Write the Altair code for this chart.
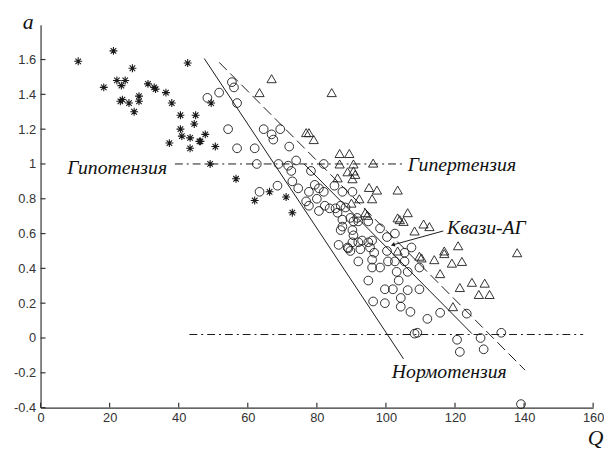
import altair as alt
import pandas as pd

# ---- data ----
hypo_q = [10.9, 21.1, 18.3, 22.1, 23.4, 24.5, 26.6, 23.1, 23.7, 25.6, 27.1, 28.5, 28.5,
          31.1, 32.9, 33.3, 36.3, 38.0, 40.5, 40.5, 40.9, 37.3, 42.6, 43.3, 43.3, 44.9,
          44.5, 46.0, 46.3, 47.7, 50.6, 49.1, 49.4, 56.6, 66.3, 62.0, 71.1, 72.9]
hypo_a = [1.59, 1.65, 1.44, 1.48, 1.45, 1.48, 1.55, 1.36, 1.37, 1.35, 1.30, 1.39, 1.36,
          1.46, 1.44, 1.43, 1.41, 1.35, 1.28, 1.20, 1.16, 1.12, 1.58, 1.15, 1.09, 1.28,
          1.23, 1.13, 1.13, 1.17, 1.10, 1.00, 1.35, 0.915, 0.84, 0.79, 0.81, 0.72]

norm_q = [48.3, 51.7, 55.4, 56.0, 56.9, 54.3, 56.9, 62.0, 64.6, 66.9,
          69.4, 67.4, 72.0, 62.6, 68.9, 71.7, 74.0, 72.6, 82.0, 78.3,
          63.4, 68.6, 72.9, 74.6, 77.7, 79.4, 80.6, 82.0, 85.1, 87.4,
          90.3, 76.9, 77.7, 80.0, 82.3, 80.6, 83.7, 85.4, 86.9, 88.3,
          86.0, 87.4, 87.4, 86.9, 89.7, 90.6, 90.3, 90.6, 92.0, 94.9,
          91.7, 98.3, 100.3, 102.6, 86.3, 88.9, 89.1, 89.7, 90.3, 92.0,
          93.1, 94.9, 96.0, 95.4, 92.6, 96.6, 100.3, 107.4, 92.0, 96.0,
          96.0, 98.3, 100.6, 102.6, 103.1, 105.4, 106.3, 109.7, 94.9, 99.7,
          102.0, 103.7, 106.3, 109.7, 96.3, 99.7, 104.3, 104.3, 107.1, 112.0,
          115.7, 123.4, 108.3, 109.1, 120.6, 121.4, 127.4, 128.3, 133.4, 139.1,
          105.4]
norm_a = [1.38, 1.41, 1.47, 1.44, 1.35, 1.20, 1.09, 1.09, 1.20, 1.17,
          1.20, 1.14, 1.10, 1.00, 1.00, 0.99, 1.02, 0.96, 1.00, 0.96,
          0.84, 0.875, 0.90, 0.86, 0.84, 0.88, 0.86, 0.84, 0.875, 0.84,
          0.84, 0.785, 0.76, 0.80, 0.76, 0.73, 0.745, 0.745, 0.76, 0.75,
          0.72, 0.68, 0.64, 0.62, 0.69, 0.67, 0.62, 0.59, 0.67, 0.67,
          0.69, 0.63, 0.58, 0.60, 0.535, 0.52, 0.515, 0.50, 0.55, 0.55,
          0.56, 0.55, 0.56, 0.52, 0.51, 0.49, 0.50, 0.52, 0.44, 0.45,
          0.405, 0.405, 0.44, 0.44, 0.38, 0.44, 0.38, 0.405, 0.33, 0.28,
          0.28, 0.33, 0.275, 0.28, 0.21, 0.20, 0.23, 0.18, 0.15, 0.11,
          0.145, 0.14, 0.025, 0.03, -0.01, -0.08, 0.00, -0.065, 0.03, -0.38,
          0.49]

hyper_q = [66.9, 63.4, 84.3, 76.9, 77.7, 79.1, 86.6, 89.4, 86.6, 90.6,
           96.3, 88.9, 90.6, 91.1, 86.0, 90.3, 95.1, 97.4, 103.4, 96.0,
           92.3, 90.0, 94.0, 94.6, 106.3, 103.4, 104.0, 105.1, 108.3, 110.9,
           112.6, 103.4, 109.7, 110.3, 114.0, 116.9, 116.9, 119.1, 120.9, 122.0,
           115.7, 138.0, 121.4, 124.9, 128.6, 126.9, 130.0, 119.4]
hyper_a = [1.49, 1.41, 1.41, 1.18, 1.18, 1.14, 1.06, 1.06, 1.00, 1.00,
           1.005, 0.955, 0.96, 0.94, 0.92, 0.915, 0.865, 0.85, 0.85, 0.80,
           0.80, 0.775, 0.72, 0.705, 0.72, 0.69, 0.68, 0.67, 0.615, 0.655,
           0.64, 0.50, 0.47, 0.46, 0.45, 0.50, 0.485, 0.43, 0.53, 0.44,
           0.37, 0.49, 0.29, 0.32, 0.315, 0.25, 0.25, 0.18]

solid_id = ["s1", "s1", "s2", "s2"]
solid_q = [47.4, 105.1, 76.3, 124.9]
solid_a = [1.606, -0.12, 1.00, 0.025]

dash_q = [51.7, 140.3]
dash_a = [1.584, -0.185]

level_q1 = [38.9, 43.1]
level_q2 = [104.9, 157.1]
level_a = [1.0, 0.02]

label_text = ["Гипотензия", "Гипертензия", "Квази-АГ", "Нормотензия"]
label_q = [7.7, 106.3, 117.7, 101.7]
label_a = [0.943, 0.96, 0.60, -0.23]

arrow_q = [116.6, 102.0]
arrow_a = [0.615, 0.535]

x_ticks = [0, 20, 40, 60, 80, 100, 120, 140, 160]
y_ticks = [-0.4, -0.2, 0, 0.2, 0.4, 0.6, 0.8, 1.0, 1.2, 1.4, 1.6]

# ---- chart ----
INK = "#1a1a1a"
W, H = 560, 388

xs = alt.Scale(domain=[0, 160], nice=False, zero=False)
ys = alt.Scale(domain=[-0.4, 1.8], nice=False, zero=False)

x_axis = alt.Axis(values=x_ticks, grid=False, ticks=False, domainColor="#333",
                  domainWidth=1.2, labelColor="#333", labelFont="Liberation Sans",
                  labelFontSize=13, labelPadding=4, labelFlush=False, labelOverlap=False,
                  title="Q", titleFont="Liberation Serif", titleFontStyle="italic",
                  titleFontWeight="normal", titleFontSize=22, titleColor="#111",
                  titleX=562, titleY=30, titleAlign="center", titleBaseline="middle")
y_axis = alt.Axis(values=y_ticks, grid=False, ticks=False, domainColor="#333",
                  domainWidth=1.2, labelColor="#333", labelFont="Liberation Sans",
                  labelFontSize=13, labelPadding=5, labelFlush=False, labelOverlap=False,
                  labelExpr="replace(format(datum.value, '.1~f'), '\u2212', '-')",
                  title="a", titleFont="Liberation Serif", titleFontStyle="italic",
                  titleFontWeight="normal", titleFontSize=22, titleColor="#111",
                  titleAngle=0, titleX=-13, titleY=-3, titleAlign="center",
                  titleBaseline="middle")


def X(f="q"):
    return alt.X(f"{f}:Q", scale=xs, axis=x_axis)


def Y(f="a"):
    return alt.Y(f"{f}:Q", scale=ys, axis=y_axis)


hypo = pd.DataFrame({"q": hypo_q, "a": hypo_a})
norm = pd.DataFrame({"q": norm_q, "a": norm_a})
hyper = pd.DataFrame({"q": hyper_q, "a": hyper_a})
solid = pd.DataFrame({"id": solid_id, "q": solid_q, "a": solid_a})
dash = pd.DataFrame({"q": dash_q, "a": dash_a})
levels = pd.DataFrame({"q": level_q1, "q2": level_q2, "a": level_a})
labels = pd.DataFrame({"t": label_text, "q": label_q, "a": label_a})
arrow = pd.DataFrame({"q": arrow_q, "a": arrow_a})
arrow_tip = pd.DataFrame({"q": arrow_q[-1:], "a": arrow_a[-1:]})
xt = pd.DataFrame({"q": x_ticks})
yt = pd.DataFrame({"a": y_ticks})

star_path = "M-1,0L1,0M0,-1L0,1M-0.7,-0.7L0.7,0.7M-0.7,0.7L0.7,-0.7"

l_solid = alt.Chart(solid).mark_line(color=INK, strokeWidth=1).encode(
    x=X(), y=Y(), detail="id:N")
l_dash = alt.Chart(dash).mark_line(color=INK, strokeWidth=1, strokeDash=[11, 5]).encode(
    x=X(), y=Y())
l_levels = alt.Chart(levels).mark_rule(color=INK, strokeWidth=1,
                                       strokeDash=[8, 4, 2, 4]).encode(
    x=X(), x2="q2:Q", y=Y())

p_hypo = alt.Chart(hypo).mark_point(shape=star_path, filled=False, color=INK,
                                    strokeWidth=1.1, size=64, opacity=1).encode(x=X(), y=Y())
p_norm = alt.Chart(norm).mark_point(shape="circle", filled=False, color=INK,
                                    strokeWidth=0.9, size=78, opacity=1).encode(x=X(), y=Y())
p_hyper = alt.Chart(hyper).mark_point(shape="triangle-up", filled=False, color=INK,
                                      strokeWidth=0.9, size=88, opacity=1).encode(x=X(), y=Y())

t_labels = alt.Chart(labels).mark_text(align="left", baseline="alphabetic",
                                       font="Liberation Serif", fontStyle="italic",
                                       fontSize=20, color="#111").encode(
    x=X(), y=Y(), text="t:N")
l_arrow = alt.Chart(arrow).mark_line(color=INK, strokeWidth=1).encode(x=X(), y=Y())
p_tip = alt.Chart(arrow_tip).mark_point(shape="triangle-left", filled=True, color=INK,
                                        size=22, angle=343, opacity=1).encode(x=X(), y=Y())

r_xt = alt.Chart(xt).mark_rule(color="#333", strokeWidth=1.2).encode(
    x=X(), y=alt.value(H), y2=alt.value(H - 5))
r_yt = alt.Chart(yt).mark_rule(color="#333", strokeWidth=1.2).encode(
    y=Y(), x=alt.value(0), x2=alt.value(5))

chart = alt.layer(
    l_levels, l_solid, l_dash, l_arrow, p_tip,
    p_hypo, p_norm, p_hyper, t_labels, r_xt, r_yt
).properties(
    width=W, height=H,
    autosize=alt.AutoSizeParams(type="none"),
    padding={"left": 33, "top": 14, "right": 11, "bottom": 40},
    background="white",
).configure_view(strokeWidth=0)

chart.save("out.html", embed_options={"renderer": "svg", "actions": False})
